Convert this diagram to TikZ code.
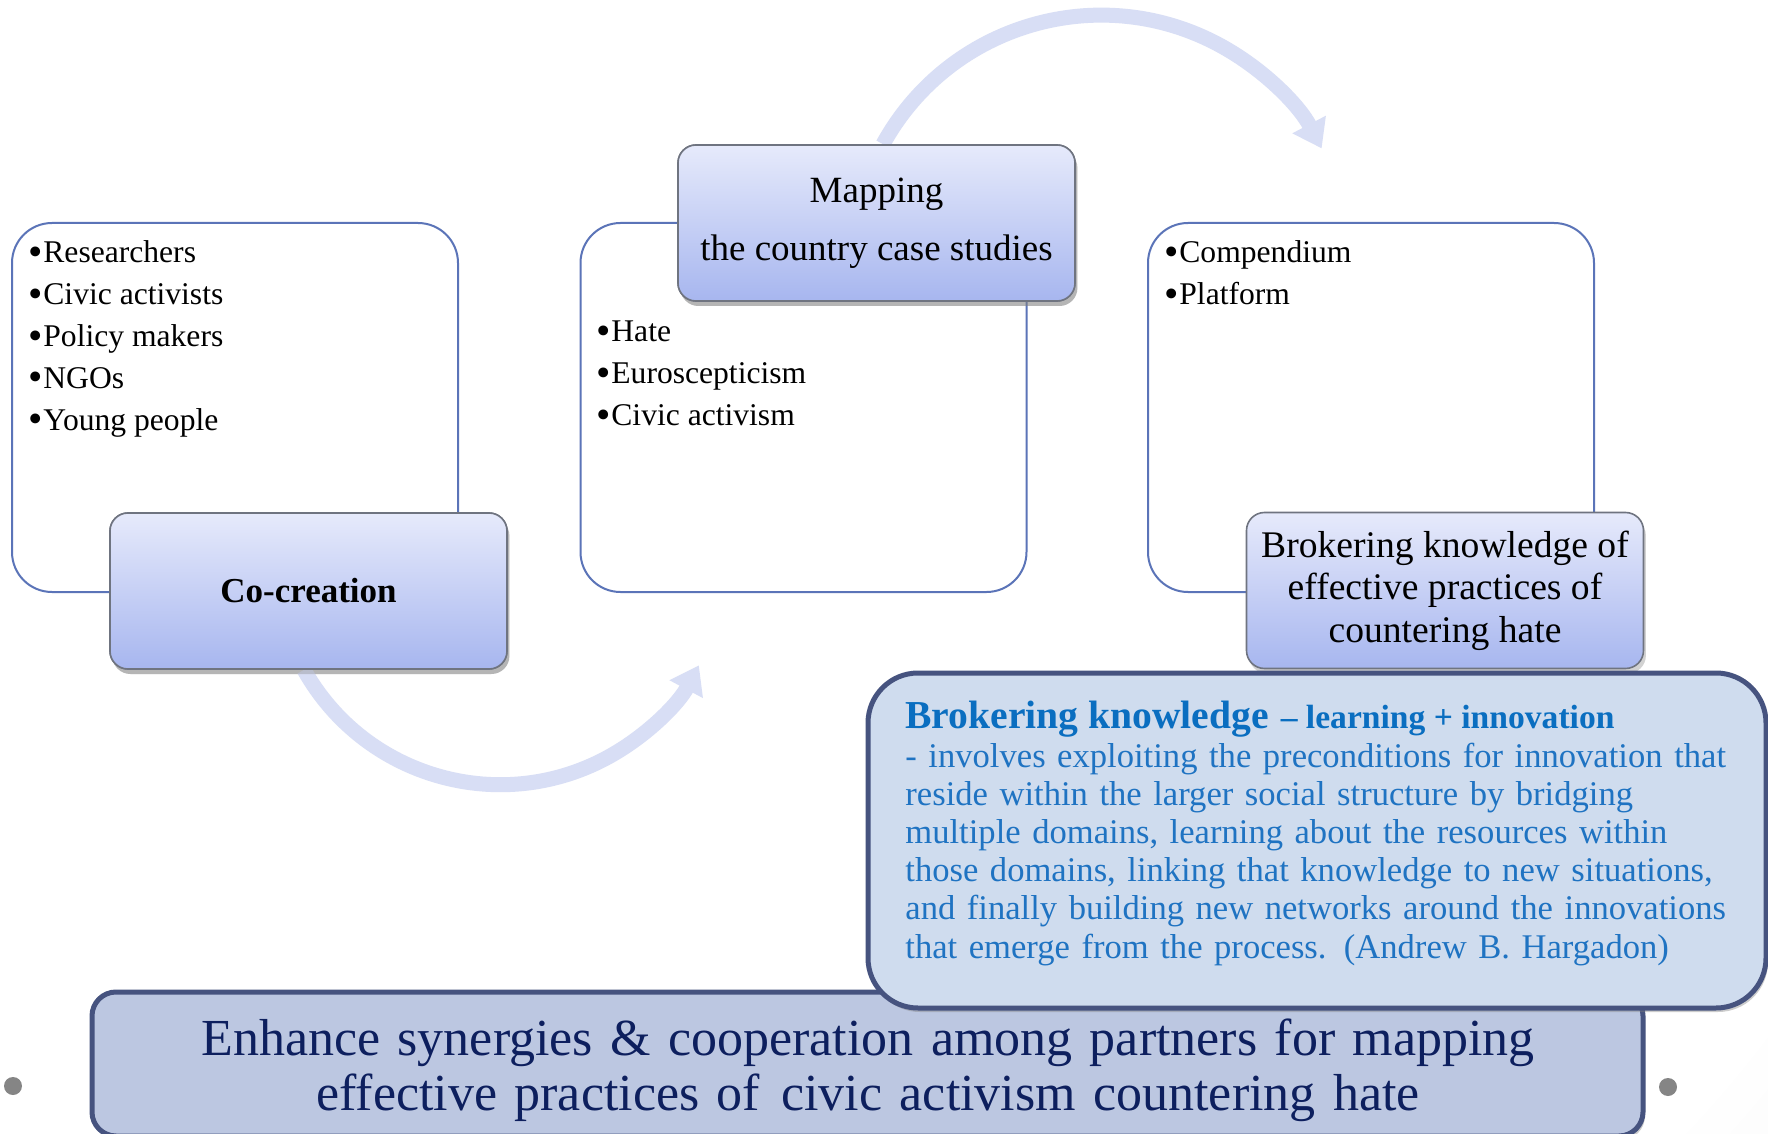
\documentclass[tikz,border=0pt]{standalone}
\usepackage{fontspec}
\setmainfont{Liberation Serif}
\usetikzlibrary{arrows.meta,shadows,calc}
\definecolor{listborder}{HTML}{5B74B8}
\definecolor{titletop}{HTML}{E6EAFB}
\definecolor{titlebot}{HTML}{A7B6EF}
\definecolor{titleborder}{HTML}{6F7480}
\definecolor{arrowcol}{HTML}{D8DEF5}
\definecolor{calloutfill}{HTML}{CFDCEE}
\definecolor{darkborder}{HTML}{46537F}
\definecolor{bottomfill}{HTML}{BCC7E1}
\definecolor{navytext}{HTML}{0D1F5E}
\definecolor{bluehead}{HTML}{0A6EC0}
\definecolor{bluebody}{HTML}{1F73C2}
\definecolor{dotgray}{HTML}{858585}
\pgfdeclareradialshading{bgshade}{\pgfpoint{0bp}{0bp}}{color(0bp)=(white); color(12bp)=(white); color(25bp)=(black!16); color(50bp)=(black!16)}
\newcommand{\blt}{\makebox[7.5pt][l]{\raisebox{-0.08em}{\scalebox{1.3}{\textbullet}}}}
\begin{document}
\begin{tikzpicture}[x=0.5pt,y=0.5pt,
  listbox/.style={draw=listborder, line width=1pt, fill=white, rounded corners=20pt,
    minimum width=223pt, minimum height=184.5pt, inner sep=0pt},
  titlebox/.style={draw=titleborder, line width=0.8pt, rounded corners=9pt,
    top color=titletop, bottom color=titlebot,
    drop shadow={shadow xshift=1.2pt, shadow yshift=-2.5pt, opacity=0.35},
    minimum width=198.5pt, minimum height=78pt, align=center, inner sep=0pt},
  listtext/.style={anchor=base west, inner sep=0pt, font=\fontsize{15.8pt}{20.9pt}\selectfont},
  arrowband/.style={draw=arrowcol, line width=7.5pt, -{Triangle[width=18pt,length=13.5pt]}},
  darkbox/.style={draw=darkborder, line width=2.5pt,
    drop shadow={shadow xshift=1pt, shadow yshift=-2pt, opacity=0.4}},
  graydot/.style={circle, fill=dotgray, minimum size=9pt, inner sep=0pt}
]
\useasboundingbox (0,0) rectangle (1768,-1134);
\begin{scope}
\clip (0,0) rectangle (1768,-1134);
\shade[shading=bgshade] (-1700,-2800) rectangle (3300,2200);

% list boxes
\node[listbox] (lbox) at (235,-407.5) {};
\node[listbox] (mbox) at (803.5,-407.5) {};
\node[listbox] (rbox) at (1371,-407.5) {};

% title boxes and curved arrows
\node[titlebox, font=\fontsize{18.5pt}{29pt}\selectfont] (map) at (876.5,-223) {Mapping\\the country case studies};
\node[titlebox, font=\bfseries\fontsize{17.5pt}{20pt}\selectfont] (co) at (308.5,-591) {Co-creation};
\draw[arrowband] ($(map.north)+(6.5,0)$) arc[start angle=151.2, end angle=27.7, radius=249];
\draw[arrowband] ($(co.south)+(-4.5,0)$) arc[start angle=209.3, end angle=332, radius=225];
\node[titlebox, font=\fontsize{18.5pt}{29pt}\selectfont] (map) at (876.5,-223) {Mapping\\the country case studies};
\node[titlebox, font=\bfseries\fontsize{17.5pt}{20pt}\selectfont] (co) at (308.5,-591) {Co-creation};
\node[titlebox, font=\fontsize{18.8pt}{21.25pt}\selectfont] (brk) at (1445,-590.5) {Brokering knowledge of\\effective practices of\\countering hate};

% list texts
\node[listtext] (l1) at (28,-263) {\blt Researchers};
\node[listtext] (l2) at (28,-304.75) {\blt Civic activists};
\node[listtext] (l3) at (28,-346.5) {\blt Policy makers};
\node[listtext] (l4) at (28,-388.25) {\blt NGOs};
\node[listtext] (l5) at (28,-430) {\blt Young people};
\node[listtext] (m1) at (596,-342) {\blt Hate};
\node[listtext] (m2) at (596,-383.75) {\blt Euroscepticism};
\node[listtext] (m3) at (596,-425.5) {\blt Civic activism};
\node[listtext] (r1) at (1164,-263) {\blt Compendium};
\node[listtext] (r2) at (1164,-304.75) {\blt Platform};

% goal box and callout
\node[darkbox, fill=bottomfill, rounded corners=12pt, minimum width=775.5pt, minimum height=72pt, inner sep=0pt] (goal) at (867.5,-1064) {};
\node[darkbox, fill=calloutfill, rounded corners=25pt, minimum width=449pt, minimum height=167.5pt, inner sep=0pt] (callout) at (1317,-840.5) {};

\node[anchor=base west, inner sep=0pt, text=bluehead, font=\bfseries] (bkhead) at (905,-728)
  {{\fontsize{19.8pt}{22pt}\selectfont Brokering knowledge}\hspace{6pt}{\fontsize{16.8pt}{19pt}\selectfont --~learning + innovation}};
\node[anchor=base west, inner sep=0pt, text=bluebody, text width=440pt, align=left,
  font=\fontsize{17.3pt}{19.1pt}\selectfont] (bkbody) at (905,-767)
  {- involves exploiting the preconditions for innovation that\\
   reside within the larger social structure by bridging\\
   multiple domains, learning about the resources within\\
   those domains, linking that knowledge to new situations,\\
   and finally building new networks around the innovations\\
   that emerge from the process. (Andrew B. Hargadon)};

\node[anchor=base, inner sep=0pt, text=navytext, text width=760pt, align=center,
  font=\fontsize{26pt}{27.5pt}\selectfont] (goaltext) at (868,-1055)
  {Enhance synergies \& cooperation among partners for mapping\\
   effective practices of \hspace{2pt}civic activism countering hate};

\node[graydot] (dl) at (13,-1086) {};
\node[graydot] (dr) at (1668,-1087) {};
\end{scope}
\end{tikzpicture}
\end{document}
